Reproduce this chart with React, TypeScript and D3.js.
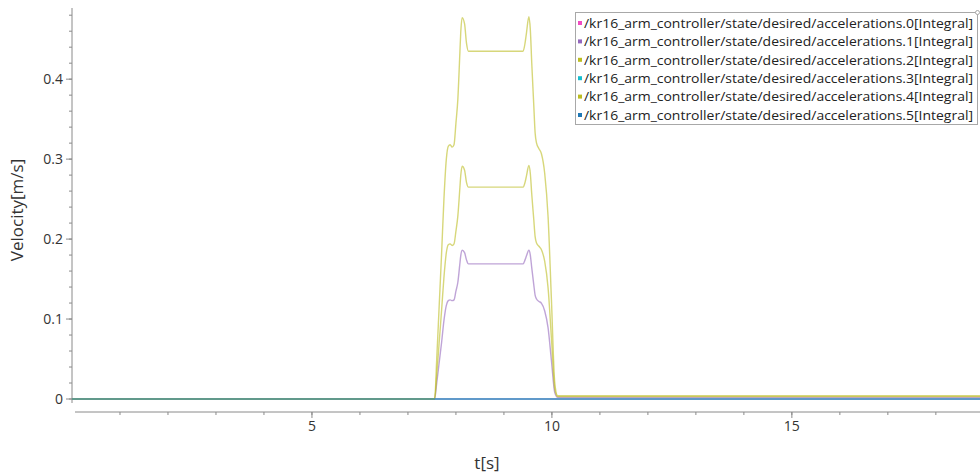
import React, { useEffect, useRef } from 'react';
import * as d3 from 'd3';

// time stamps [s] shared by all series
const times = [0, 7.556, 7.6, 7.65, 7.7, 7.75, 7.8, 7.84, 7.88, 7.92, 7.96, 8.0, 8.04, 8.08, 8.1, 8.13, 8.18, 8.22, 8.26, 9.4, 9.44, 9.47, 9.52, 9.55, 9.58, 9.62, 9.65, 9.68, 9.73, 9.78, 9.85, 9.92, 9.99, 10.06, 10.12, 18.92];

const acc0 = times.map(() => 0);
const acc1 = [0, 0, 0.02, 0.045, 0.07, 0.098, 0.117, 0.123, 0.124, 0.123, 0.124, 0.135, 0.146, 0.168, 0.179, 0.186, 0.183, 0.174, 0.169, 0.169, 0.174, 0.179, 0.186, 0.18, 0.164, 0.144, 0.13, 0.125, 0.122, 0.12, 0.11, 0.089, 0.048, 0.008, 0.002, 0.002];
const acc2 = [0, 0, 0.03, 0.07, 0.11, 0.152, 0.183, 0.193, 0.194, 0.192, 0.194, 0.21, 0.229, 0.262, 0.279, 0.291, 0.286, 0.271, 0.265, 0.265, 0.271, 0.279, 0.292, 0.282, 0.256, 0.226, 0.203, 0.195, 0.191, 0.187, 0.172, 0.139, 0.076, 0.012, 0.003, 0.003];
const acc3 = times.map(() => 0);
const acc4 = [0, 0, 0.05, 0.115, 0.18, 0.25, 0.3, 0.316, 0.318, 0.315, 0.318, 0.345, 0.375, 0.43, 0.458, 0.477, 0.469, 0.445, 0.435, 0.435, 0.445, 0.458, 0.478, 0.462, 0.42, 0.37, 0.333, 0.32, 0.313, 0.307, 0.282, 0.228, 0.124, 0.02, 0.004, 0.004];
const acc5 = times.map(() => 0);

const seriesNames = [0, 1, 2, 3, 4, 5].map(i => `/kr16_arm_controller/state/desired/accelerations.${i}[Integral]`);
const seriesValues = [acc0, acc1, acc2, acc3, acc4, acc5];
const seriesColors = ['#f14cc1', '#9467bd', '#bcbd22', '#17becf', '#bcbd22', '#1f77b4'];

const xTicks = [5, 10, 15];
const yTicks = [0, 0.1, 0.2, 0.3, 0.4];

const App = () => {
    const ref = useRef<SVGSVGElement>(null);

    useEffect(() => {
        const svg = d3.select(ref.current)
            .attr('width', 980)
            .attr('height', 473)
            .style('font-family', '"Open Sans", "Noto Sans", sans-serif');
        svg.selectAll('*').remove();

        const left = 72, right = 980, top = 8, bottom = 403;
        const x = d3.scaleLinear().domain([0, 18.92]).range([left, right]);
        const y = d3.scaleLinear().domain([-0.005, 0.489]).range([bottom, top]);

        svg.append('defs').append('clipPath').attr('id', 'plot')
            .append('rect').attr('x', left).attr('y', top).attr('width', right - left).attr('height', bottom - top);

        // y axis
        const yAxis = svg.append('g').attr('transform', `translate(${left},0)`);
        yAxis.append('line').attr('x1', 0).attr('x2', 0).attr('y1', top).attr('y2', bottom).attr('stroke', '#8a8a8a');
        const yMinor = d3.range(0, 25).map(i => i * 0.02).filter(v => y(v) >= top);
        yAxis.selectAll('.ymin').data(yMinor).enter().append('line')
            .attr('x1', -3).attr('x2', 0).attr('y1', d => y(d)).attr('y2', d => y(d)).attr('stroke', '#8a8a8a');
        yAxis.selectAll('.ymaj').data(yTicks).enter().append('line')
            .attr('x1', -6).attr('x2', 0).attr('y1', d => y(d)).attr('y2', d => y(d)).attr('stroke', '#8a8a8a');
        yAxis.selectAll('.ylab').data(yTicks).enter().append('text')
            .attr('x', -9).attr('y', d => y(d)).attr('dy', '0.35em')
            .attr('text-anchor', 'end').attr('font-size', 14).attr('fill', '#333')
            .text(d => d === 0 ? '0' : d3.format('.1f')(d));

        // x axis
        const xAxis = svg.append('g').attr('transform', 'translate(0,412)');
        xAxis.append('line').attr('x1', 75).attr('x2', 980).attr('y1', 0).attr('y2', 0).attr('stroke', '#8a8a8a');
        xAxis.selectAll('.xmin').data(d3.range(1, 19)).enter().append('line')
            .attr('x1', d => x(d)).attr('x2', d => x(d)).attr('y1', 0).attr('y2', 3).attr('stroke', '#8a8a8a');
        xAxis.selectAll('.xmaj').data(xTicks).enter().append('line')
            .attr('x1', d => x(d)).attr('x2', d => x(d)).attr('y1', 0).attr('y2', 6).attr('stroke', '#8a8a8a');
        xAxis.selectAll('.xlab').data(xTicks).enter().append('text')
            .attr('x', d => x(d)).attr('y', 19)
            .attr('text-anchor', 'middle').attr('font-size', 14).attr('fill', '#333')
            .text(d => d);

        svg.append('text').attr('x', 487).attr('y', 469).attr('text-anchor', 'middle')
            .attr('font-size', 17).attr('fill', '#333').text('t[s]');
        svg.append('text').attr('transform', 'translate(23,210) rotate(-90)').attr('text-anchor', 'middle')
            .attr('font-size', 17).attr('fill', '#333').text('Velocity[m/s]');

        // lines
        const line = d3.line<number>()
            .x((_, i) => x(times[i]))
            .y(d => y(d))
            .curve(d3.curveMonotoneX);
        const plot = svg.append('g').attr('clip-path', 'url(#plot)');
        seriesValues.forEach((vals, i) => {
            plot.append('path').datum(vals)
                .attr('d', line)
                .attr('fill', 'none')
                .attr('stroke', seriesColors[i])
                .attr('stroke-opacity', 0.6)
                .attr('stroke-width', 1.4);
        });

        // legend
        const legend = svg.append('g');
        legend.append('rect').attr('x', 575.5).attr('y', 12.5).attr('width', 402).attr('height', 112)
            .attr('fill', 'white').attr('stroke', '#a8a8a8');
        legend.append('circle').attr('cx', 977.5).attr('cy', 12.5).attr('r', 2)
            .attr('fill', 'white').attr('stroke', '#a8a8a8');
        seriesNames.forEach((name, i) => {
            const cy = 23 + i * 18.4;
            legend.append('rect').attr('x', 578).attr('y', cy - 2).attr('width', 4).attr('height', 4)
                .attr('fill', seriesColors[i]);
            legend.append('text').attr('x', 584).attr('y', cy).attr('dy', '0.35em')
                .attr('font-size', 13.5).attr('fill', '#222')
                .attr('textLength', 389).attr('lengthAdjust', 'spacingAndGlyphs')
                .text(name);
        });
    }, []);

    return (
        <svg ref={ref} style={{ position: 'absolute', left: 0, top: 0 }}></svg>
    );
}

export default App;
